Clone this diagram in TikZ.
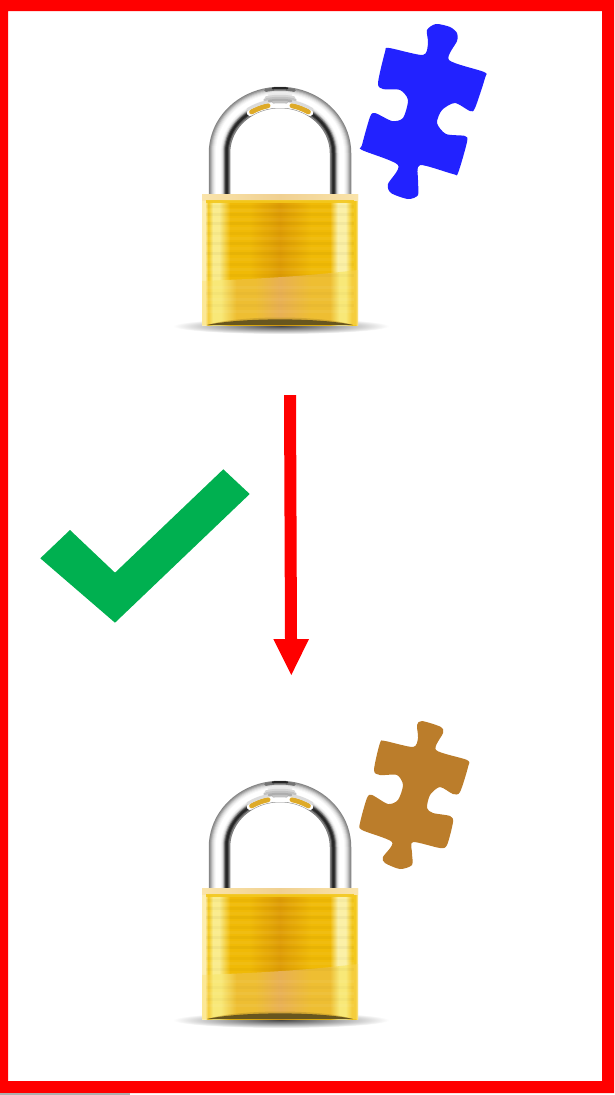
\documentclass[tikz,border=0pt]{standalone}
\usetikzlibrary{calc}
\definecolor{framered}{RGB}{255,0,0}
\definecolor{puzzleblue}{RGB}{34,34,255}
\definecolor{puzzlebrown}{RGB}{187,125,43}
\definecolor{checkgreen}{RGB}{0,176,80}
\definecolor{gA}{RGB}{253,238,176}
\definecolor{gB}{RGB}{243,200,30}
\definecolor{gC}{RGB}{250,236,140}
\definecolor{gD}{RGB}{240,186,6}
\definecolor{gE}{RGB}{222,156,6}
\definecolor{gF}{RGB}{251,240,165}
\definecolor{lA}{RGB}{252,232,150}
\definecolor{lB}{RGB}{245,205,60}
\definecolor{lC}{RGB}{248,232,120}
\definecolor{lD}{RGB}{238,190,50}
\definecolor{lE}{RGB}{232,176,84}
\definecolor{tA}{RGB}{250,228,170}
\definecolor{tB}{RGB}{240,208,145}
\definecolor{lipdark}{RGB}{104,86,30}
\definecolor{lipmid}{RGB}{190,150,40}
\definecolor{shoulder}{RGB}{222,170,40}
\pgfdeclarehorizontalshading{lockbody}{100bp}{color(0bp)=(gA); color(25bp)=(gA); color(26bp)=(gA); color(27bp)=(gB); color(28.5bp)=(gC); color(30.5bp)=(gC); color(34bp)=(gD); color(40bp)=(gD); color(50bp)=(gE); color(60bp)=(gD); color(66bp)=(gD); color(68.5bp)=(gF); color(71bp)=(gF); color(73bp)=(gB); color(74.2bp)=(gB); color(75bp)=(gA); color(100bp)=(gA)}
\pgfdeclarehorizontalshading{lockbodylow}{100bp}{color(0bp)=(lA); color(25bp)=(lA); color(26bp)=(lA); color(27bp)=(lB); color(28.5bp)=(lC); color(31bp)=(lC); color(36bp)=(lD); color(42bp)=(lD); color(50bp)=(lE); color(60bp)=(lD); color(66bp)=(lD); color(69bp)=(lC); color(71bp)=(lC); color(73bp)=(lB); color(74.2bp)=(lB); color(75bp)=(lA); color(100bp)=(lA)}
\pgfdeclarehorizontalshading{locktop}{100bp}{color(0bp)=(tA); color(25bp)=(tA); color(50bp)=(tB); color(75bp)=(tA); color(100bp)=(tA)}
\tikzset{
  framefill/.style={fill=framered,even odd rule},
  archline/.style={line width=1.5pt,line cap=butt,line join=round},
}
% one ring of the shackle: #1 inset, #2 colour
\newcommand{\archring}[2]{%
  \draw[archline,color=#2] (209+#1,194)
    -- plot[domain=180:0,samples=41] ({280+(71-#1)*cos(\x)},{153-(66-#1)*sin(\x)})
    -- (351-#1,194);}
\newcommand{\topband}[5]{% inset, start angle, end angle, width, colour
  \draw[line width=#4,color=#5,line cap=round] plot[domain=#2:#3,samples=25] ({280+(71-#1)*cos(\x)},{153-(66-#1)*sin(\x)});}
\newcommand{\padlock}{%
  % ground shadow
  \shade[inner color=black!72,outer color=white] (281,326) ellipse [x radius=108,y radius=8];
  % shackle
  \foreach \d/\c in {0.5/black!48,1.5/black!40,2.5/black!30,3.5/black!20,4.5/black!13,5.5/black!7,6.5/black!3,7.5/white,8.5/white,9.5/white,10.5/white,11.5/white,12.5/black!4,13.5/black!10,14.5/black!25,15.5/black!50,16.5/black!75,17.5/black!85,18.5/black!85,19.5/black!70,20.5/black!50}{\archring{\d}{\c}}
  % shackle crown
  \topband{17.5}{124}{56}{6.5pt}{white}
  \topband{17.5}{122}{103}{5pt}{shoulder}
  \topband{17.5}{77}{58}{5pt}{shoulder}
  \topband{13.5}{124}{56}{3pt}{black!14}
  \topband{7}{100}{80}{2.5pt}{black!8}
  \topband{9}{103}{77}{2.5pt}{black!16}
  \topband{11}{105}{75}{2.5pt}{black!24}
  \topband{13}{101}{79}{2.5pt}{black!32}
  \topband{15}{97}{83}{2.5pt}{black!24}
  \topband{2}{102}{78}{3pt}{black!55}
  \topband{1}{96}{84}{2pt}{black!85}
  % body
  \shade[shading=lockbody] (202,194) rectangle (358,325);
  \shade[shading=lockbodylow] (202,281) .. controls (250,279) and (300,277) .. (358,270) -- (358,325) -- (202,325) -- cycle;
  \foreach \yy/\cc/\oo in {205/black/.025,209/white/.05,213/black/.03,218/white/.04,222/black/.035,227/white/.04,232/black/.025,237/white/.05,242/black/.03,247/white/.04,252/black/.035,258/white/.04,263/black/.025,268/white/.05,274/black/.025,286/white/.05,292/black/.02,298/white/.05,304/black/.02,310/white/.05}{
    \fill[color=\cc,opacity=\oo] (206,\yy) rectangle (354,\yy+2.5);}
  \shade[shading=locktop] (202,194) rectangle (358,200);
  \fill[gB,opacity=.9] (206,200) rectangle (354,202.5);
  \fill[lipmid,opacity=.55] (207,325) .. controls (240,315) and (320,315) .. (353,325) -- cycle;
  \fill[lipdark] (207,325) .. controls (240,317.5) and (320,317.5) .. (353,325) -- cycle;
}
\begin{document}
\begin{tikzpicture}[x=1pt,y=-1pt]
\useasboundingbox (0,0) rectangle (615,1095);
\fill[white] (0,0) rectangle (615,1095);
% frame
\path[framefill] (0,0) rectangle (614,1093) (8,11) rectangle (602,1081);
\fill[black!32] (0,1093) rectangle (130,1095);
% locks
\begin{scope}\padlock\end{scope}
\begin{scope}[shift={(0,694)}]\padlock\end{scope}
% blue piece
\fill[puzzleblue] plot[smooth cycle,tension=.45] coordinates {
 (427,30)(436,24)(450,27)(457,33)(457,41)(449,60)(484,72)(485,78)(475,108)(470,111)(455,103)(442,110)(437,123)(446,134)(465,136)(467,142)(458,173)(453,174)(420,165)(418,180)(418,195)(408,199)(391,193)(388,184)(398,165)(362,150)(362,145)(370,117)(375,113)(392,121)(403,118)(408,100)(400,90)(383,89)(378,83)(385,52)(389,48)(423,55)(428,43)};
% brown piece
\fill[puzzlebrown] plot[smooth cycle,tension=.45] coordinates {
 (417,725)(422,721)(441,727)(443,733)(436,750)(467,760)(468,767)(460,792)(453,794)(440,787)(430,795)(427,808)(433,813)(450,816)(453,822)(447,845)(440,848)(413,842)(412,853)(412,865)(400,869)(385,863)(383,857)(392,842)(362,830)(360,823)(367,798)(372,795)(388,804)(398,800)(403,785)(397,775)(380,775)(374,770)(380,743)(385,741)(413,747)(418,738)};
% check mark
\fill[checkgreen] (40.3,558.3) -- (70,530) -- (115,572.7) -- (223.3,469.3) -- (249.7,494) -- (115,622.7) -- cycle;
% arrow
\fill[framered] (284,395) -- (296,395) -- (297,639) -- (309,639) -- (291.3,675) -- (273.3,639) -- (285,639) -- cycle;
\end{tikzpicture}
\end{document}
